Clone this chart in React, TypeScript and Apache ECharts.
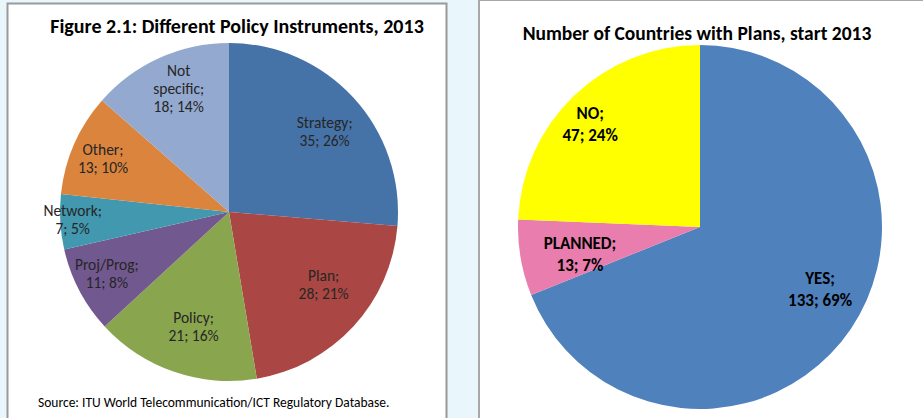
import React, { useEffect, useRef } from "react";
import * as echarts from "echarts";

const policyNames = ["Strategy", "Plan", "Policy", "Proj/Prog", "Network", "Other", "Not specific"];
const policyValues = [35, 28, 21, 11, 7, 13, 18];
const policyColors = ["#4572A7", "#AA4643", "#89A54E", "#71588F", "#4198AF", "#DB843D", "#93A9CF"];
const policyLabelOffsets = [[4, 4], [3, -12], [5, -3], [-12, 4], [-32, 0], [-12, -3], [1, -10]];

const planNames = ["YES", "PLANNED", "NO"];
const planValues = [133, 13, 47];
const planColors = ["#4F81BD", "#E97DAD", "#FFFF00"];
const planLabelOffsets = [[9, -13], [12, 5], [-17, -6]];

const FONT = "Carlito, 'Liberation Sans', Arial, sans-serif";

export default function App() {
  const ref = useRef<HTMLDivElement>(null);
  useEffect(() => {
    document.body.style.margin = "0";
    const chart = echarts.init(ref.current!, null, { renderer: "svg" });
    const leftData = policyNames.map((n, i) => ({ name: n, value: policyValues[i], itemStyle: { color: policyColors[i] } }));
    const leftLabelData = policyNames.map((n, i) => ({
      name: n,
      value: policyValues[i],
      label: { offset: policyLabelOffsets[i] },
    }));
    const rightData = planNames.map((n, i) => ({ name: n, value: planValues[i], itemStyle: { color: planColors[i] } }));
    const rightLabelData = planNames.map((n, i) => ({
      name: n,
      value: planValues[i],
      label: { offset: planLabelOffsets[i] },
    }));
    const transparentItem = { color: "rgba(0,0,0,0)", borderWidth: 0 };
    chart.setOption({
      animation: false,
      backgroundColor: "#E9F6FC",
      title: [
        {
          text: "Figure 2.1: Different Policy Instruments, 2013",
          left: 232,
          top: 11,
          textAlign: "center",
          textStyle: { fontFamily: FONT, fontSize: 20, fontWeight: "bold", color: "#000" },
        },
        {
          text: "Number of Countries with Plans, start 2013",
          left: 692,
          top: 18,
          textAlign: "center",
          textStyle: { fontFamily: FONT, fontSize: 19.5, fontWeight: "bold", color: "#000" },
        },
        {
          text: "Source: ITU World Telecommunication/ICT Regulatory Database.",
          left: 33,
          top: 390,
          textStyle: { fontFamily: FONT, fontSize: 13.5, fontWeight: "normal", color: "#000" },
        },
      ],
      graphic: [
        {
          type: "rect",
          z: -10,
          shape: { x: 7.5, y: 3.5, width: 439, height: 430 },
          style: { fill: "#fff", stroke: "#9a9a9a", lineWidth: 2 },
        },
        {
          type: "rect",
          z: -10,
          shape: { x: 479, y: 0, width: 460, height: 430 },
          style: { fill: "#fff", stroke: "#a8a8a8", lineWidth: 2 },
        },
      ],
      series: [
        {
          type: "pie",
          center: [229, 212],
          radius: [0, 169],
          startAngle: 90,
          clockwise: true,
          silent: true,
          label: { show: false },
          labelLine: { show: false },
          data: leftData,
        },
        {
          type: "pie",
          center: [229, 212],
          radius: [74, 169],
          startAngle: 90,
          clockwise: true,
          silent: true,
          percentPrecision: 0,
          itemStyle: transparentItem,
          label: {
            show: true,
            position: "inside",
            fontFamily: FONT,
            fontSize: 15.5,
            lineHeight: 18,
            color: "#262626",
            align: "center",
            formatter: (p: any) => `${p.name.replace(" ", "\n")};\n${p.value}; ${p.percent}%`,
          },
          labelLine: { show: false },
          data: leftLabelData,
        },
        {
          type: "pie",
          center: [700, 227],
          radius: [0, 182],
          startAngle: 90,
          clockwise: true,
          silent: true,
          label: { show: false },
          labelLine: { show: false },
          data: rightData,
        },
        {
          type: "pie",
          center: [700, 227],
          radius: [80, 182],
          startAngle: 90,
          clockwise: true,
          silent: true,
          percentPrecision: 0,
          itemStyle: transparentItem,
          label: {
            show: true,
            position: "inside",
            fontFamily: FONT,
            fontSize: 17,
            fontWeight: "bold",
            lineHeight: 22,
            color: "#000",
            align: "center",
            formatter: (p: any) => `${p.name};\n${p.value}; ${p.percent}%`,
          },
          labelLine: { show: false },
          data: rightLabelData,
        },
      ],
    });
    return () => chart.dispose();
  }, []);
  return <div ref={ref} style={{ width: 923, height: 418 }} />;
}
